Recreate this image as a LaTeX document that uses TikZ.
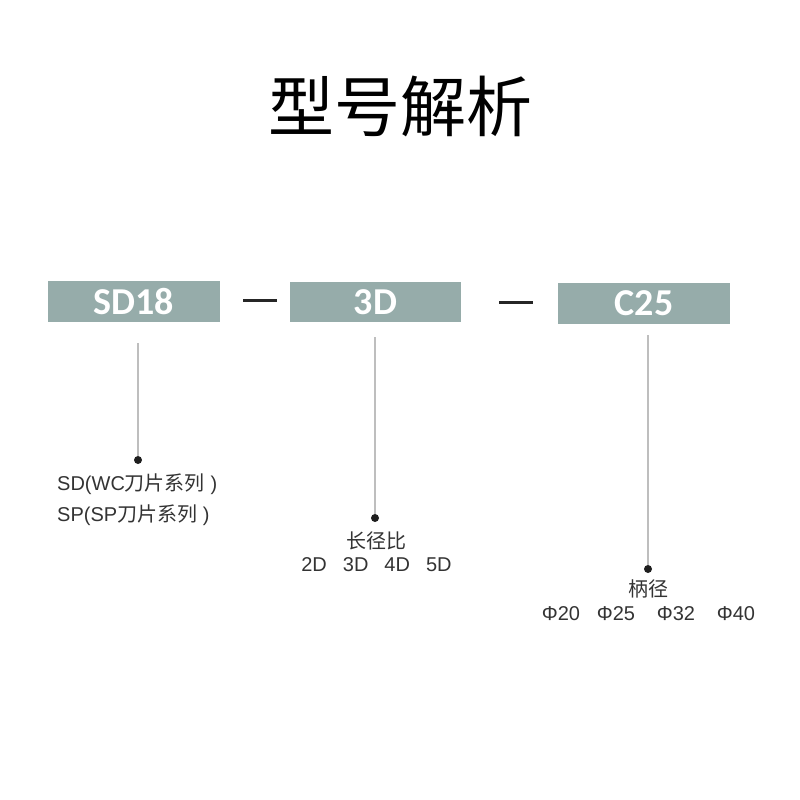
\documentclass[tikz,border=0pt]{standalone}
\usepackage{fontspec}
\setmainfont{Liberation Sans}
\newfontfamily\cjk{Noto Sans CJK SC}
\newfontfamily\boxfont{Carlito}
\definecolor{boxgray}{RGB}{150,172,170}
\definecolor{leadgray}{RGB}{190,190,190}
\definecolor{dotdark}{RGB}{30,30,30}
\begin{document}
\begin{tikzpicture}[x=1pt,y=-1pt,
  codebox/.style={fill=boxgray,draw=none,inner sep=0pt,text=white,
    font=\boxfont\bfseries\fontsize{38}{38}\selectfont},
  leader/.style={draw=leadgray,line width=1.5pt},
  enddot/.style={circle,fill=dotdark,inner sep=0pt,minimum size=8pt},
  sepdash/.style={draw=black!85,line width=3pt},
  lbl/.style={inner sep=0pt,font=\fontsize{20}{20}\selectfont,text=black!80},
  cjklbl/.style={inner sep=0pt,font=\cjk\fontsize{20}{20}\selectfont,text=black!80}]
\useasboundingbox (0,0) rectangle (800,800);
\node[inner sep=0pt,font=\cjk\fontsize{66}{66}\selectfont] (title) at (400,106) {型号解析};
% code boxes
\node[codebox,minimum width=172pt,minimum height=41pt] (b1) at (134,301.5) {SD18};
\node[codebox,minimum width=171pt,minimum height=40pt] (b2) at (375.5,302) {3D};
\node[codebox,minimum width=172pt,minimum height=41pt] (b3) at (644,303.5) {C25};
% dashes
\coordinate (d1a) at (243,300.5); \coordinate (d1b) at (277,300.5);
\coordinate (d2a) at (499,302); \coordinate (d2b) at (533,302);
\draw[sepdash] (d1a) -- (d1b);
\draw[sepdash] (d2a) -- (d2b);
% leaders
\coordinate (t1) at (138,343);
\coordinate (t2) at (375,337);
\coordinate (t3) at (648,335);
\node[enddot] (p1) at (138,460) {};
\node[enddot] (p2) at (375,518) {};
\node[enddot] (p3) at (648,569) {};
\draw[leader] (t1) -- (p1);
\draw[leader] (t2) -- (p2);
\draw[leader] (t3) -- (p3);
% labels
\node[lbl,anchor=west] (l1a) at (57,484) {SD(WC{\cjk 刀片系列} )};
\node[lbl,anchor=west] (l1b) at (57,515) {SP(SP{\cjk 刀片系列} )};
\node[cjklbl] (l2a) at (376,541) {长径比};
\node[lbl] (l2b) at (376.5,565) {2D\hspace{0.8em}3D\hspace{0.8em}4D\hspace{0.8em}5D};
\node[cjklbl] (l3a) at (648,589) {柄径};
\node[lbl] (f1) at (561,614) {Φ20};
\node[lbl] (f2) at (616,614) {Φ25};
\node[lbl] (f3) at (676,614) {Φ32};
\node[lbl] (f4) at (736,614) {Φ40};
\end{tikzpicture}
\end{document}
